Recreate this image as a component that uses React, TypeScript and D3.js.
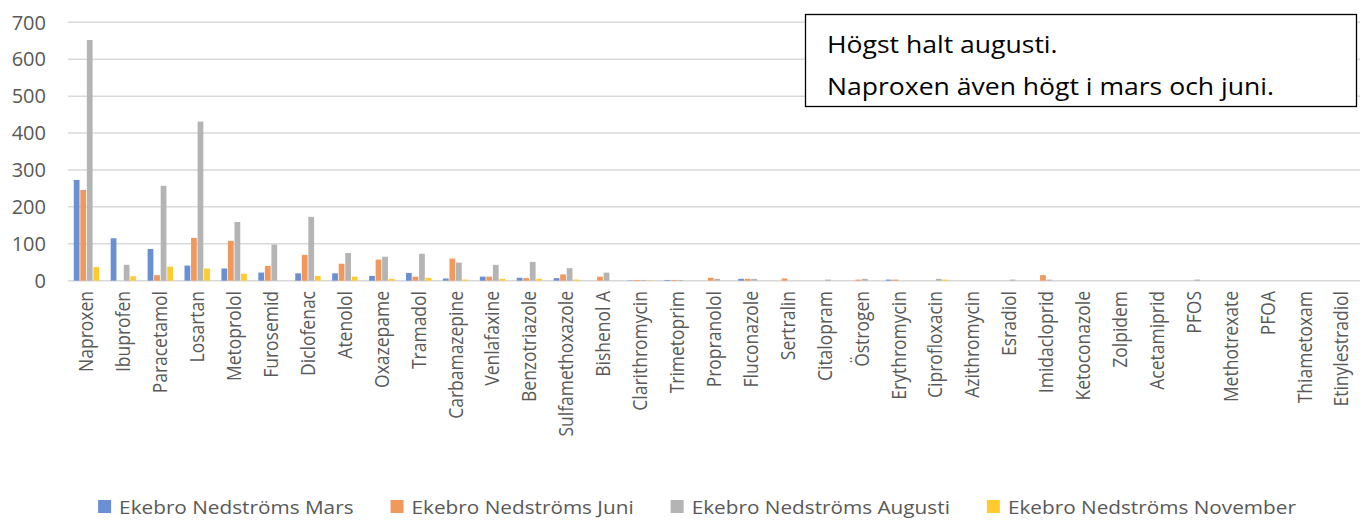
import React, { useEffect, useRef } from "react";
import * as d3 from "d3";

const categories = [
  "Naproxen", "Ibuprofen", "Paracetamol", "Losartan", "Metoprolol", "Furosemid",
  "Diclofenac", "Atenolol", "Oxazepame", "Tramadol", "Carbamazepine", "Venlafaxine",
  "Benzotriazole", "Sulfamethoxazole", "Bishenol A", "Clarithromycin", "Trimetoprim",
  "Propranolol", "Fluconazole", "Sertralin", "Citalopram", "Östrogen", "Erythromycin",
  "Ciprofloxacin", "Azithromycin", "Esradiol", "Imidacloprid", "Ketoconazole", "Zolpidem",
  "Acetamiprid", "PFOS", "Methotrexate", "PFOA", "Thiametoxam", "Etinylestradiol",
];

const mars = [273, 115, 86, 41, 33, 22, 20, 20, 13, 21, 6, 11, 8, 7, 0, 1, 2, 0, 5, 0, 0, 0, 3, 0, 0, 0, 0, 0, 0, 0, 0, 0, 0, 0, 0];
const juni = [246, 0, 15, 116, 108, 40, 70, 46, 57, 11, 60, 11, 7, 17, 11, 2, 2, 8, 5, 6, 0, 3, 3, 0, 0, 0, 15, 0, 0, 0, 0, 0, 0, 0, 0];
const augusti = [652, 43, 257, 431, 159, 98, 173, 75, 65, 73, 49, 43, 51, 34, 22, 2, 2, 5, 5, 0, 3, 5, 0, 5, 0, 3, 3, 0, 0, 0, 3, 0, 0, 0, 0];
const november = [37, 12, 38, 33, 19, 0, 13, 11, 5, 8, 3, 5, 5, 3, 0, 1, 0, 0, 0, 0, 0, 0, 0, 3, 0, 0, 0, 0, 0, 0, 0, 0, 0, 0, 0];

const seriesNames = [
  "Ekebro Nedströms Mars",
  "Ekebro Nedströms Juni",
  "Ekebro Nedströms Augusti",
  "Ekebro Nedströms November",
];
const colors = ["#6A8FD3", "#F1985C", "#B4B4B4", "#FFCB2F"];
const yTicks = [0, 100, 200, 300, 400, 500, 600, 700];
const noteLines = ["Högst halt augusti.", "Naproxen även högt i mars och juni."];

const W = 1363;
const H = 520;
const font = "'Open Sans', sans-serif";

export default function App() {
  const ref = useRef<SVGSVGElement>(null);

  useEffect(() => {
    const svg = d3.select(ref.current);
    svg.selectAll("*").remove();

    const values = [mars, juni, augusti, november];
    const left = 68, right = 1360, top = 22.3, bottom = 280.7;

    const x = d3.scaleBand().domain(categories).range([left, right]).paddingInner(0.27).paddingOuter(0.135);
    const xs = d3.scaleBand().domain(seriesNames).range([0, x.bandwidth()]).padding(0.12);
    const y = d3.scaleLinear().domain([0, 700]).range([bottom, top]);

    // gridlines
    svg.append("g")
      .selectAll("line")
      .data(yTicks)
      .enter()
      .append("line")
      .attr("x1", left)
      .attr("x2", right)
      .attr("y1", (d) => y(d))
      .attr("y2", (d) => y(d))
      .attr("stroke", "#D9D9D9")
      .attr("stroke-width", 1.5);

    // y labels
    svg.append("g")
      .selectAll("text")
      .data(yTicks)
      .enter()
      .append("text")
      .attr("x", 46)
      .attr("y", (d) => y(d))
      .attr("dy", "0.36em")
      .attr("text-anchor", "end")
      .attr("fill", "#595959")
      .style("font-family", font)
      .style("font-size", "20px")
      .text((d) => d);

    // bars
    values.forEach((vals, si) => {
      svg.append("g")
        .selectAll("rect")
        .data(vals)
        .enter()
        .append("rect")
        .attr("x", (d, i) => (x(categories[i]) as number) + (xs(seriesNames[si]) as number))
        .attr("y", (d) => y(d))
        .attr("width", xs.bandwidth())
        .attr("height", (d) => bottom - y(d))
        .attr("fill", colors[si]);
    });

    // x labels (rotated, glyphs a bit wider on screen like the source)
    svg.append("g")
      .selectAll("text")
      .data(categories)
      .enter()
      .append("text")
      .attr("transform", (d) => `translate(${(x(d) as number) + x.bandwidth() / 2},291) rotate(-90) scale(1,1.1)`)
      .attr("dy", "0.36em")
      .attr("text-anchor", "end")
      .attr("fill", "#595959")
      .style("font-family", font)
      .style("font-size", "17.5px")
      .text((d) => d);

    // legend
    const sx = 1.11;
    const lg = svg.append("g").style("font-family", font).style("font-size", "18.7px");
    const items = lg.selectAll("g").data(seriesNames).enter().append("g");
    items.append("rect").attr("width", 13).attr("height", 13).attr("y", 500).attr("fill", (d, i) => colors[i]);
    items.append("text")
      .attr("transform", `translate(21,514) scale(${sx},1)`)
      .attr("fill", "#595959")
      .text((d) => d);
    const widths: number[] = [];
    items.each(function () {
      const t = (this as SVGGElement).querySelector("text") as SVGTextElement;
      widths.push(21 + t.getComputedTextLength() * sx);
    });
    const gap = 37;
    const total = d3.sum(widths) + gap * (widths.length - 1);
    let cx = 697 - total / 2;
    items.attr("transform", (d, i) => {
      const tx = cx;
      cx += widths[i] + gap;
      return `translate(${tx},0)`;
    });

    // annotation box
    const note = svg.append("g");
    note.append("rect")
      .attr("x", 805.5)
      .attr("y", 14.5)
      .attr("width", 551)
      .attr("height", 92)
      .attr("fill", "#fff")
      .attr("stroke", "#000")
      .attr("stroke-width", 1.3);
    note.selectAll("text")
      .data(noteLines)
      .enter()
      .append("text")
      .attr("transform", (d, i) => `translate(827,${53 + i * 42}) scale(1.13,1)`)
      .attr("fill", "#000")
      .style("font-family", font)
      .style("font-size", "23.5px")
      .text((d) => d);
  }, []);

  return (
    <svg
      ref={ref}
      width={W}
      height={H}
      style={{ position: "absolute", left: 0, top: 0, background: "#fff" }}
    ></svg>
  );
}
